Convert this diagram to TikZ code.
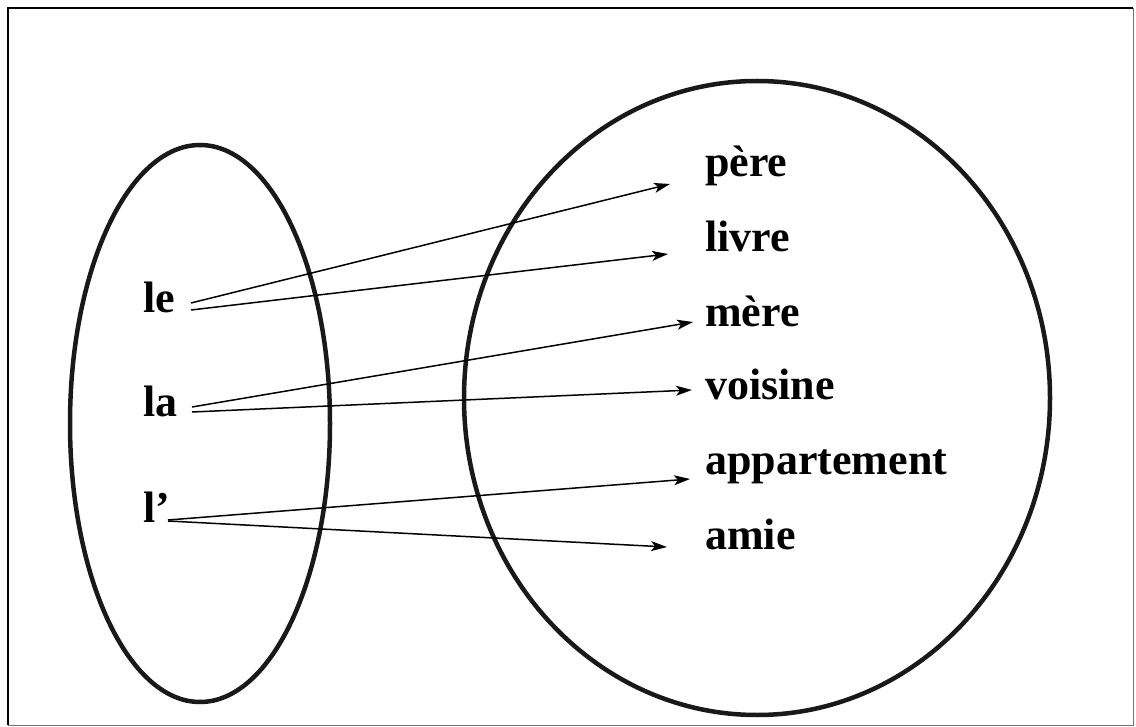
\documentclass[tikz,border=0pt]{standalone}
\usepackage{fontspec}
\setmainfont{Liberation Serif}
\usetikzlibrary{arrows.meta,calc}
\tikzset{
  >={Stealth[length=16pt,width=10pt,inset=4pt]},
  setline/.style={line width=4.5pt,black!90},
  word/.style={font=\fontsize{44}{50}\selectfont\bfseries,inner sep=0pt,
    anchor=base west},
  map/.style={->,line width=1.5pt},
}

\begin{document}
\begin{tikzpicture}[x=1pt,y=1pt]
  \useasboundingbox (0,0) rectangle (1136,-727);
  % frame, heavier on the left and top
  \draw[line width=2.6pt] (8,-725) -- (8,-8) -- (1133,-8);
  \draw[line width=1pt,black!55] (1133,-8) -- (1133,-725) -- (8,-725);
  % the two sets
  \draw[setline] (200,-423.5) ellipse [x radius=130, y radius=278.5];
  \draw[setline] (757,-398) ellipse [x radius=293, y radius=317];
  % articles
  \node[word] (le) at (143,-313) {le};
  \node[word] (la) at (143,-417) {la};
  \node[word] (lap) at (143,-522) {l’};
  % nouns
  \node[word] (pere) at (705,-177) {père};
  \node[word] (livre) at (705,-252) {livre};
  \node[word] (mere) at (705,-327) {mère};
  \node[word] (voisine) at (705,-400) {voisine};
  \node[word] (appart) at (705,-475) {appartement};
  \node[word] (amie) at (705,-549) {amie};
  % mappings
  \draw[map] ($(le.base west)+(48,10)$) -- ($(pere.base west)+(-35,-7)$);
  \draw[map] ($(le.base west)+(48,3)$) -- ($(livre.base west)+(-37,-2)$);
  \draw[map] ($(la.base west)+(49,10)$) -- ($(mere.base west)+(-12,5)$);
  \draw[map] ($(la.base west)+(49,5)$) -- ($(voisine.base west)+(-13,10)$);
  \draw[map] ($(lap.base west)+(25,2)$) -- ($(appart.base west)+(-15,-4)$);
  \draw[map] ($(lap.base west)+(25,1)$) -- ($(amie.base west)+(-38,2)$);
\end{tikzpicture}
\end{document}
